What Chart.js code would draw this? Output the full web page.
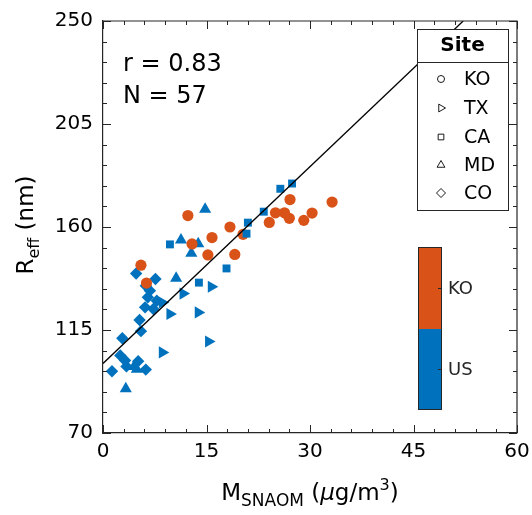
<!DOCTYPE html>
<html>
<head>
<meta charset="utf-8">
<script src="https://cdn.jsdelivr.net/npm/chart.js@4.4.0/dist/chart.umd.min.js"></script>
<style>
  html, body { margin: 0; padding: 0; background: #fff; }
</style>
</head>
<body>
<canvas id="scatterChart" width="532" height="515"></canvas>
<script>
// Axis ticks
const xTicks = [0, 15, 30, 45, 60];
const yTicks = [70, 115, 160, 205, 250];
const xMinorStep = 3;
const yMinorStep = 9;

// KO sites (circles)
const koX = [12.3, 18.4, 20.3, 15.8, 12.9, 15.2, 19.1, 5.5, 6.3, 27.1, 33.2, 25.0, 26.3, 27.0, 29.1, 30.3, 24.1];
const koY = [165.0, 160.0, 156.8, 155.4, 152.6, 147.8, 148.0, 143.3, 135.5, 172.0, 170.9, 166.2, 166.2, 163.8, 162.9, 166.1, 162.0];

// TX (right triangles)
const txX = [15.7, 11.6, 9.7, 13.8, 15.3, 8.6, 8.6];
const txY = [133.9, 130.9, 122.0, 122.7, 110.0, 105.2, 127.0];

// CA (squares)
const caX = [9.7, 13.9, 17.9, 20.8, 21.0, 23.3, 25.7, 27.4];
const caY = [152.4, 135.7, 141.9, 157.1, 161.9, 166.7, 176.7, 179.0];

// MD (triangles)
const mdX = [14.8, 11.3, 13.8, 12.8, 10.6, 3.3, 4.9, 4.5];
const mdY = [167.8, 154.3, 152.7, 148.5, 137.6, 89.3, 97.8, 99.1];

// CO (diamonds)
const coX = [4.8, 6.2, 7.6, 6.8, 6.5, 6.1, 7.3, 5.3, 5.5, 2.8, 2.5, 3.2, 3.4, 5.1, 6.2, 1.3, 7.8];
const coY = [139.7, 134.3, 137.3, 132.2, 129.3, 124.9, 124.2, 119.4, 114.5, 111.4, 103.9, 101.7, 99.1, 101.4, 97.7, 97.0, 127.8];

// fit line
const fitX = [0, 52.2];
const fitY = [100.4, 250];

const statR = '0.83';
const statN = '57';

const siteNames = ['KO', 'TX', 'CA', 'MD', 'CO'];
const colorbarLabels = ['KO', 'US'];

const KO_COLOR = '#D95319';
const US_COLOR = '#0072BD';
const AXIS_COLOR = '#262626';
const FONT = 'DejaVu Sans';

function toPoints(xs, ys) {
    return xs.map((x, i) => ({ x: x, y: ys[i] }));
}

function drawRich(ctx, parts, x, y) {
    // parts: {t, size, dy, style}; draws centred on x
    let total = 0;
    parts.forEach(p => {
        ctx.font = (p.style || 'normal') + ' ' + p.size + 'px "' + FONT + '"';
        p.w = ctx.measureText(p.t).width;
        total += p.w;
    });
    let cx = x - total / 2;
    ctx.textAlign = 'left';
    ctx.textBaseline = 'alphabetic';
    parts.forEach(p => {
        ctx.font = (p.style || 'normal') + ' ' + p.size + 'px "' + FONT + '"';
        ctx.fillText(p.t, cx, y + (p.dy || 0));
        cx += p.w;
    });
}

const decorPlugin = {
    id: 'decor',
    afterDraw(chart) {
        const ctx = chart.ctx;
        const a = chart.chartArea;
        const xs = chart.scales.x;
        const ys = chart.scales.y;
        ctx.save();

        // box (top + right)
        ctx.strokeStyle = AXIS_COLOR;
        ctx.lineWidth = 1.2;
        ctx.beginPath();
        ctx.moveTo(a.left, a.top);
        ctx.lineTo(a.right, a.top);
        ctx.lineTo(a.right, a.bottom);
        ctx.stroke();

        // inward ticks
        ctx.lineWidth = 1;
        ctx.beginPath();
        for (let v = xs.min; v <= xs.max + 1e-9; v += xMinorStep) {
            const px = Math.round(xs.getPixelForValue(v)) + 0.5;
            const len = xTicks.includes(v) ? 8 : 4;
            ctx.moveTo(px, a.bottom); ctx.lineTo(px, a.bottom - len);
            ctx.moveTo(px, a.top); ctx.lineTo(px, a.top + len);
        }
        for (let v = ys.min; v <= ys.max + 1e-9; v += yMinorStep) {
            const py = Math.round(ys.getPixelForValue(v)) + 0.5;
            const len = yTicks.includes(v) ? 8 : 4;
            ctx.moveTo(a.left, py); ctx.lineTo(a.left + len, py);
            ctx.moveTo(a.right, py); ctx.lineTo(a.right - len, py);
        }
        ctx.stroke();

        // axis titles
        ctx.fillStyle = '#000';
        drawRich(ctx, [
            { t: 'M', size: 23 },
            { t: 'SNAOM', size: 17, dy: 6 },
            { t: ' (', size: 23 },
            { t: '\u03bc', size: 23, style: 'italic' },
            { t: 'g/m', size: 23 },
            { t: '3', size: 16, dy: -10 },
            { t: ')', size: 23 }
        ], 310, 500);

        ctx.save();
        ctx.translate(33, 225);
        ctx.rotate(-Math.PI / 2);
        drawRich(ctx, [
            { t: 'R', size: 23 },
            { t: 'eff', size: 16, dy: 6 },
            { t: ' (nm)', size: 23 }
        ], 0, 0);
        ctx.restore();

        // stats
        ctx.font = '24px "' + FONT + '"';
        ctx.textAlign = 'left';
        ctx.textBaseline = 'alphabetic';
        ctx.fillText('r = ' + statR, 123, 71);
        ctx.fillText('N = ' + statN, 123, 103);

        // site legend
        const lx = 417, ly = 29, lw = 91, lh = 181;
        ctx.fillStyle = '#fff';
        ctx.fillRect(lx, ly, lw, lh);
        ctx.strokeStyle = AXIS_COLOR;
        ctx.lineWidth = 1;
        ctx.strokeRect(lx + 0.5, ly + 0.5, lw, lh);
        ctx.beginPath();
        ctx.moveTo(lx, ly + 33.5); ctx.lineTo(lx + lw, ly + 33.5);
        ctx.stroke();
        ctx.fillStyle = '#000';
        ctx.font = 'bold 20px "' + FONT + '"';
        ctx.textAlign = 'center';
        ctx.textBaseline = 'middle';
        ctx.fillText('Site', lx + lw / 2, ly + 17);
        const rowY = [79, 108, 137, 165, 193];
        const styles = [
            { pointStyle: 'circle', radius: 3.5, rotation: 0 },
            { pointStyle: 'triangle', radius: 4.5, rotation: 90 },
            { pointStyle: 'rect', radius: 4, rotation: 0 },
            { pointStyle: 'triangle', radius: 4.5, rotation: 0 },
            { pointStyle: 'rectRot', radius: 4.5, rotation: 0 }
        ];
        ctx.font = '19px "' + FONT + '"';
        ctx.textAlign = 'left';
        siteNames.forEach((name, i) => {
            ctx.fillStyle = '#fff';
            ctx.strokeStyle = '#000';
            ctx.lineWidth = 0.9;
            Chart.helpers.drawPoint(ctx, Object.assign({ borderWidth: 0.9 }, styles[i]), 441, rowY[i]);
            ctx.fillStyle = '#000';
            ctx.fillText(name, 464, rowY[i] + 1);
        });

        // colorbar
        const cbx = 418, cbw = 23, cbTop = 247, cbMid = 329, cbBot = 409;
        ctx.fillStyle = KO_COLOR;
        ctx.fillRect(cbx, cbTop, cbw, cbMid - cbTop);
        ctx.fillStyle = US_COLOR;
        ctx.fillRect(cbx, cbMid, cbw, cbBot - cbMid);
        ctx.strokeStyle = AXIS_COLOR;
        ctx.lineWidth = 1;
        ctx.strokeRect(cbx + 0.5, cbTop + 0.5, cbw, cbBot - cbTop);
        const cbY = [288.5, 369.5];
        ctx.beginPath();
        cbY.forEach(y => { ctx.moveTo(cbx + cbw, y); ctx.lineTo(cbx + cbw - 3, y); });
        ctx.stroke();
        ctx.fillStyle = AXIS_COLOR;
        ctx.font = '18px "' + FONT + '"';
        ctx.textBaseline = 'middle';
        colorbarLabels.forEach((t, i) => ctx.fillText(t, 448, cbY[i] + 1));

        ctx.restore();
    }
};

const tickFont = { family: FONT, size: 20 };

const scatterChart = new Chart(document.getElementById('scatterChart').getContext('2d'), {
    type: 'scatter',
    data: {
        datasets: [
            {
                type: 'line',
                data: toPoints(fitX, fitY),
                borderColor: '#000',
                borderWidth: 1.3,
                pointRadius: 0,
                fill: false,
                order: -1
            },
            { data: toPoints(koX, koY), pointStyle: 'circle', pointRadius: 5.6, backgroundColor: KO_COLOR, borderWidth: 0, order: 2 },
            { data: toPoints(caX, caY), pointStyle: 'rect', pointRadius: 5.6, backgroundColor: US_COLOR, borderWidth: 0, order: 1 },
            { data: toPoints(txX, txY), pointStyle: 'triangle', pointRotation: 90, pointRadius: 7, backgroundColor: US_COLOR, borderWidth: 0, order: 3 },
            { data: toPoints(mdX, mdY), pointStyle: 'triangle', pointRadius: 7, backgroundColor: US_COLOR, borderWidth: 0, order: 3 },
            { data: toPoints(coX, coY), pointStyle: 'rectRot', pointRadius: 6.2, backgroundColor: US_COLOR, borderWidth: 0, order: 4 }
        ]
    },
    options: {
        responsive: false,
        animation: false,
        devicePixelRatio: 1,
        layout: { padding: { top: 21, right: 15, left: 0, bottom: 0 } },
        plugins: { legend: { display: false }, tooltip: { enabled: false } },
        scales: {
            x: {
                type: 'linear', min: 0, max: 60,
                afterBuildTicks: s => { s.ticks = xTicks.map(v => ({ value: v })); },
                afterFit: s => { s.height = 82; s.paddingLeft = 0; s.paddingRight = 0; },
                ticks: { font: tickFont, color: '#000', padding: 7, maxRotation: 0 },
                grid: { display: false, drawTicks: false },
                border: { display: true, color: AXIS_COLOR, width: 1.2 }
            },
            y: {
                type: 'linear', min: 70, max: 250,
                afterBuildTicks: s => { s.ticks = yTicks.map(v => ({ value: v })); },
                afterFit: s => { s.width = 103; s.paddingTop = 0; s.paddingBottom = 0; },
                ticks: { font: tickFont, color: '#000', padding: 10 },
                grid: { display: false, drawTicks: false },
                border: { display: true, color: AXIS_COLOR, width: 1.2 }
            }
        }
    },
    plugins: [decorPlugin]
});
</script>
</body>
</html>
